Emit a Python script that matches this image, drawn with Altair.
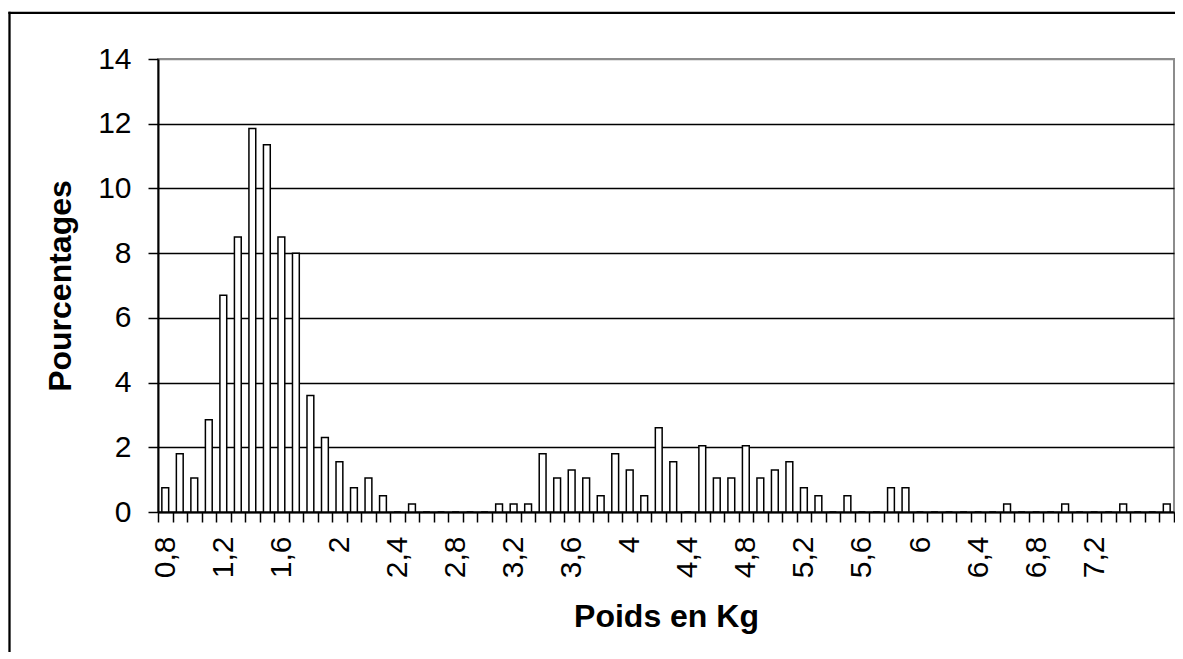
import altair as alt
import pandas as pd

categories = [
    "0,8", "0,9", "1", "1,1", "1,2", "1,3", "1,4", "1,5", "1,6", "1,7",
    "1,8", "1,9", "2", "2,1", "2,2", "2,3", "2,4", "2,5", "2,6", "2,7",
    "2,8", "2,9", "3", "3,1", "3,2", "3,3", "3,4", "3,5", "3,6", "3,7",
    "3,8", "3,9", "4", "4,1", "4,2", "4,3", "4,4", "4,5", "4,6", "4,7",
    "4,8", "4,9", "5", "5,1", "5,2", "5,3", "5,4", "5,5", "5,6", "5,7",
    "5,8", "5,9", "6", "6,1", "6,2", "6,3", "6,4", "6,5", "6,6", "6,7",
    "6,8", "6,9", "7", "7,1", "7,2", "7,3", "7,4", "7,5", "7,6", "7,7",
]
percentages = [
    0.75, 1.8, 1.05, 2.85, 6.7, 8.5, 11.85, 11.35, 8.5, 8.0,
    3.6, 2.3, 1.55, 0.75, 1.05, 0.5, 0, 0.25, 0, 0,
    0, 0, 0, 0.25, 0.25, 0.25, 1.8, 1.05, 1.3, 1.05,
    0.5, 1.8, 1.3, 0.5, 2.6, 1.55, 0, 2.05, 1.05, 1.05,
    2.05, 1.05, 1.3, 1.55, 0.75, 0.5, 0, 0.5, 0, 0,
    0.75, 0.75, 0, 0, 0, 0, 0, 0, 0.25, 0,
    0, 0, 0.25, 0, 0, 0, 0.25, 0, 0, 0.25,
]
shown_labels = ["0,8", "1,2", "1,6", "2", "2,4", "2,8", "3,2", "3,6", "4",
                "4,4", "4,8", "5,2", "5,6", "6", "6,4", "6,8", "7,2"]
y_ticks = [0, 2, 4, 6, 8, 10, 12, 14]

df = pd.DataFrame({"poids": categories, "pct": percentages})

FONT = "Liberation Sans"
W, H = 1016, 453
label_list = ",".join("'" + s + "'" for s in shown_labels)
label_expr = f"indexof([{label_list}], datum.value) >= 0 ? datum.value : ''"

bars = alt.Chart(df).mark_bar(
    width=alt.RelativeBandSize(0.47),
    fill="white",
    stroke="black",
    strokeWidth=1.5,
).encode(
    x=alt.X(
        "poids:N",
        sort=categories,
        scale=alt.Scale(paddingInner=0, paddingOuter=0),
        axis=alt.Axis(
            title="Poids en Kg",
            titleFont=FONT,
            titleFontSize=32,
            titleFontWeight="bold",
            titleColor="black",
            titleX=W / 2,
            titleY=114.5,
            titleBaseline="alphabetic",
            titleAngle=0,
            labelExpr=label_expr,
            labelAngle=270,
            labelFont=FONT,
            labelFontSize=30,
            labelColor="black",
            labelPadding=14,
            labelOverlap=False,
            labelBound=False,
            tickBand="extent",
            tickSize=10,
            tickWidth=1.5,
            tickColor="black",
            domainColor="black",
            domainWidth=2,
            grid=False,
        ),
    ),
    y=alt.Y(
        "pct:Q",
        scale=alt.Scale(domain=[0, 14], nice=False),
        axis=alt.Axis(
            values=y_ticks,
            title="Pourcentages",
            titleFont=FONT,
            titleFontSize=32,
            titleFontWeight="bold",
            titleColor="black",
            titleX=-88,
            titleY=H / 2,
            titleAngle=270,
            titleBaseline="alphabetic",
            labelFont=FONT,
            labelFontSize=30,
            labelColor="black",
            labelPadding=17,
            tickSize=10,
            tickWidth=1.5,
            tickColor="black",
            domainColor="black",
            domainWidth=2,
            grid=True,
            gridColor={"condition": {"test": "datum.value === 14", "value": "#8c8c8c"}, "value": "black"},
            gridWidth=1.6,
        ),
    ),
)

frame_data = alt.Data(values=[{"a": 1}])
frame_top = alt.Chart(frame_data).mark_rule(color="black", strokeWidth=2.3).encode(
    x=alt.value(-149.6), x2=alt.value(W + 1), y=alt.value(-46.2),
)
frame_left = alt.Chart(frame_data).mark_rule(color="black", strokeWidth=2.3).encode(
    x=alt.value(-148.5), y=alt.value(-47.3), y2=alt.value(H + 140),
)

chart = alt.layer(frame_top, frame_left, bars).properties(
    width=W,
    height=H,
    padding={"left": 150, "top": 51, "right": 1, "bottom": 140},
    autosize=alt.AutoSizeParams(type="none"),
    background="white",
).configure_view(
    stroke="#8c8c8c",
    strokeWidth=2,
)

chart.save("out.html", embed_options={"renderer": "svg", "actions": False})
